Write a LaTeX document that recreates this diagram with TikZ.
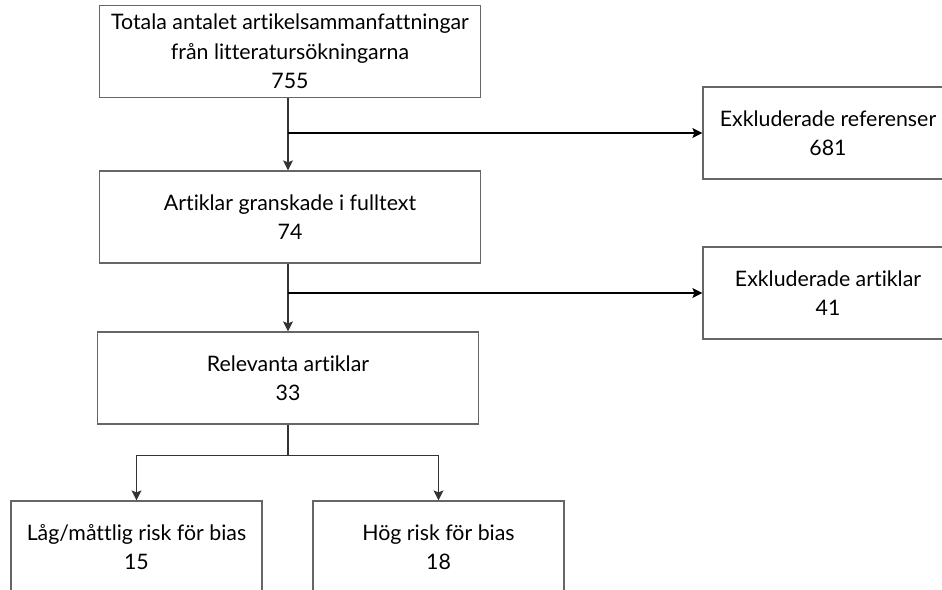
\documentclass[tikz,border=0pt]{standalone}
\usepackage{fontspec}
\setmainfont{Lato}[Ligatures=NoCommon]
\usetikzlibrary{calc}
\usetikzlibrary{arrows.meta}

\begin{document}
\begin{tikzpicture}[x = 0.75pt, y = 0.75pt,
        box/.style={rectangle, draw=black!60, line width=0.9pt, inner sep=0pt,
            minimum height=69pt, align=center,
            font=\fontsize{16}{22}\selectfont},
        mainbox/.style={box, minimum width=285.75pt},
        sidebox/.style={box, minimum width=187.5pt},
        riskbox/.style={box, minimum width=188.25pt},
        line/.style={draw=black!80, line width=0.8pt},
        paths/.style={line, -{Stealth[length=7.5pt, width=7.5pt, inset=1.5pt]}}
    ]

        % Frame
        \path[use as bounding box] (0,0) rectangle (942,589);
        \clip (0,0) rectangle (942,589);

        % Nodes
        \node[mainbox] (total) at (290,537.5) {Totala antalet artikelsammanfattningar\\från litteratursökningarna\\755};
        \node[mainbox] (full) at (290,372) {Artiklar granskade i fulltext\\74};
        \node[mainbox] (relevant) at (288,211) {Relevanta artiklar\\33};

        \node[sidebox] (exref) at (828,456) {Exkluderade referenser\\681};
        \node[sidebox] (exart) at (828,296) {Exkluderade artiklar\\41};

        \node[riskbox] (low) at (136.5,42) {Låg/måttlig risk för bias\\15};
        \node[riskbox] (high) at (438.5,42) {Hög risk för bias\\18};

        % Paths: main flow
        \draw[paths] (total.south -| relevant) -- (full.north -| relevant);
        \draw[paths] (full.south -| relevant) -- (relevant);

        % Paths: exclusions
        \coordinate (split1) at (relevant.south |- exref.west);
        \coordinate (split2) at (relevant.south |- exart.west);
        \draw[paths, draw=black] (split1) -- (exref);
        \draw[paths, draw=black] (split2) -- (exart);

        % Paths: risk of bias
        \draw[line] (relevant.south) -- ++(0,-31) coordinate (fork);
        \draw[paths] (fork) -| (low);
        \draw[paths] (fork) -| (high);
\end{tikzpicture}
\end{document}
